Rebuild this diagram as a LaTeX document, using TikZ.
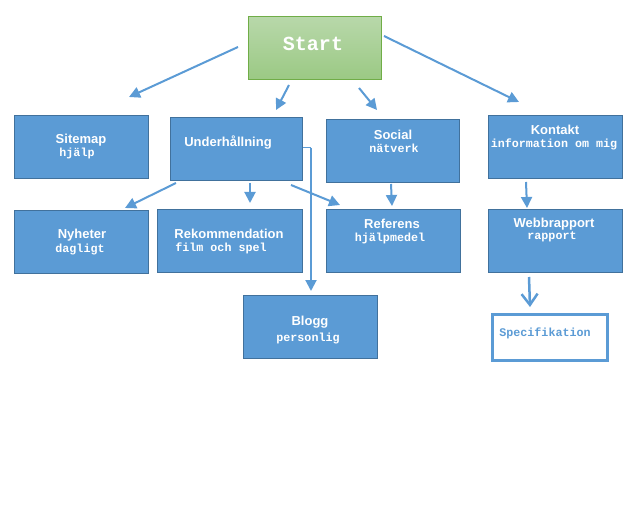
\documentclass[tikz,border=0pt]{standalone}
\usepackage{fontspec}
\setmainfont{Liberation Sans}
\newfontfamily\mono{Liberation Mono}
\usetikzlibrary{arrows.meta}
\definecolor{boxblue}{HTML}{5B9BD5}
\definecolor{boxborder}{HTML}{41719C}
\definecolor{arrowblue}{HTML}{5B9BD5}
\definecolor{starttop}{HTML}{B8D8AA}
\definecolor{startbottom}{HTML}{9BC984}
\definecolor{startborder}{HTML}{70AD47}
\begin{document}
\begin{tikzpicture}[x=1bp,y=-1bp,
  box/.style={draw=boxborder, fill=boxblue, line width=1bp, anchor=north west, inner sep=0pt, minimum height=63bp},
  startbox/.style={draw=startborder, top color=starttop, bottom color=startbottom, line width=1bp, anchor=north west, inner sep=0pt, minimum width=133bp, minimum height=63bp},
  specbox/.style={draw=boxblue, fill=white, line width=3bp, anchor=north west, inner sep=0pt, minimum width=115bp, minimum height=46bp},
  title/.style={font=\fontsize{13bp}{15bp}\selectfont\bfseries, text=white, inner sep=0pt},
  sub/.style={font=\mono\fontsize{11.7bp}{13bp}\selectfont\bfseries, text=white, inner sep=0pt},
  starttext/.style={font=\mono\fontsize{20bp}{22bp}\selectfont\bfseries, text=white, inner sep=0pt},
  spectext/.style={font=\mono\fontsize{11.7bp}{13bp}\selectfont\bfseries, text=boxblue, inner sep=0pt},
  arr/.style={draw=arrowblue, line width=2bp, -{Triangle[length=11bp,width=11bp]}},
  barb/.style={draw=arrowblue, line width=2.5bp, -{Straight Barb[length=11bp,width=16bp,line width=2.5bp]}}
]
\useasboundingbox (0,0) rectangle (639,506);

% boxes
\node[startbox] (start) at (248,16) {};
\node[box, minimum width=134bp] (sitemap) at (14,115) {};
\node[box, minimum width=132bp] (underh) at (170,117) {};
\node[box, minimum width=133bp] (social) at (326,119) {};
\node[box, minimum width=134bp] (kontakt) at (488,115) {};
\node[box, minimum width=134bp] (nyheter) at (14,210) {};
\node[box, minimum width=145bp] (rekom) at (157,209) {};
\node[box, minimum width=134bp] (referens) at (326,209) {};
\node[box, minimum width=134bp] (webb) at (488,209) {};
\node[box, minimum width=134bp] (blogg) at (243,295) {};
\node[specbox] (spec) at (491,313) {};

% texts
\node[starttext] (tstart) at (313,44) {Start};
\node[title] (tsitemap) at (81,140) {Sitemap};
\node[sub] (ssitemap) at (77,153) {hjälp};
\node[title] (tunderh) at (228,143) {Underhållning};
\node[title] (tsocial) at (393,135) {Social};
\node[sub] (ssocial) at (394,148) {nätverk};
\node[title] (tkontakt) at (555,130) {Kontakt};
\node[sub] (skontakt) at (554,144) {information om mig};
\node[title] (tnyheter) at (82,235) {Nyheter};
\node[sub] (snyheter) at (80,250) {dagligt};
\node[title] (trekom) at (229,234) {Rekommendation};
\node[sub] (srekom) at (221,248) {film och spel};
\node[title] (tblogg) at (310,322) {Blogg};
\node[sub] (sblogg) at (308,338) {personlig};
\node[title] (treferens) at (392,224) {Referens};
\node[sub] (sreferens) at (390,238) {hjälpmedel};
\node[title] (twebb) at (554,224) {Webbrapport};
\node[sub] (swebb) at (552,237) {rapport};
\node[spectext] (tspec) at (545,333) {Specifikation};

% connector end points
\coordinate (a1) at (238,47);  \coordinate (b1) at (129,97);
\coordinate (a2) at (289,85);  \coordinate (b2) at (276,110);
\coordinate (a3) at (359,88);  \coordinate (b3) at (377,110);
\coordinate (a4) at (384,36);  \coordinate (b4) at (519,102);
\coordinate (a5) at (176,183); \coordinate (b5) at (125,208);
\coordinate (a6) at (250,183); \coordinate (b6) at (250,203);
\coordinate (a7) at (291,185); \coordinate (b7) at (340,205);
\coordinate (a8) at (303,148); \coordinate (m8) at (311,148); \coordinate (b8) at (311,291);
\coordinate (a9) at (391,184); \coordinate (b9) at (392,206);
\coordinate (a10) at (526,182); \coordinate (b10) at (527,208);
\coordinate (a11) at (529,277); \coordinate (b11) at (530,307);

% connectors
\draw[arr] (a1) -- (b1);
\draw[arr] (a2) -- (b2);
\draw[arr] (a3) -- (b3);
\draw[arr] (a4) -- (b4);
\draw[arr] (a5) -- (b5);
\draw[arr] (a6) -- (b6);
\draw[arr] (a7) -- (b7);
\draw[draw=arrowblue, line width=1bp] (a8) -- (m8);
\draw[arr] (m8) -- (b8);
\draw[arr] (a9) -- (b9);
\draw[arr] (a10) -- (b10);
\draw[barb] (a11) -- (b11);
\end{tikzpicture}
\end{document}
